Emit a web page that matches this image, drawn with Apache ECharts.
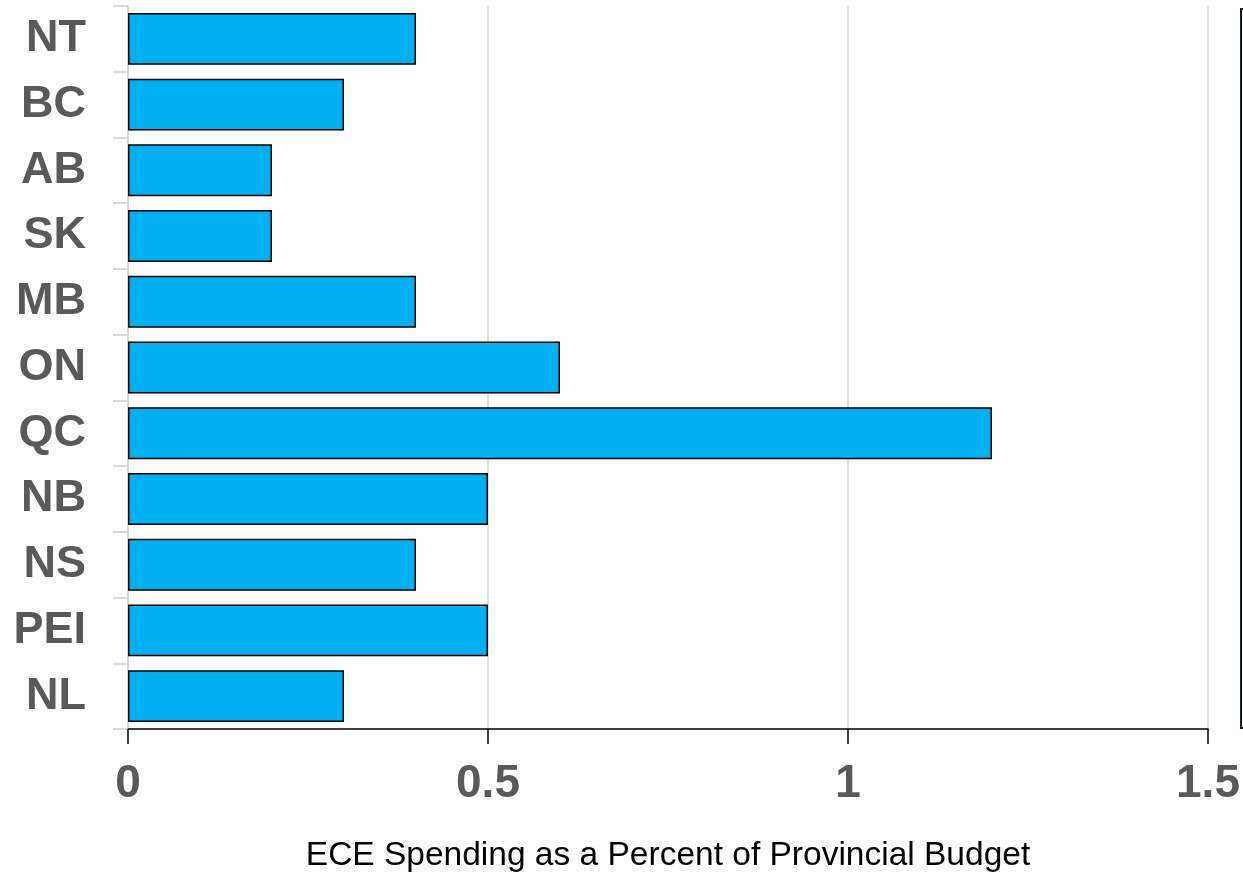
<!DOCTYPE html>
<html>
<head>
<meta charset="utf-8">
<script src="https://cdn.jsdelivr.net/npm/echarts@6/dist/echarts.min.js"></script>
<style>
  html, body { margin: 0; padding: 0; background: #ffffff; }
  #chart { width: 1243px; height: 878px; }
</style>
</head>
<body>
<div id="chart"></div>
<script>
// Provinces / territories, top to bottom
const provinces = ['NT', 'BC', 'AB', 'SK', 'MB', 'ON', 'QC', 'NB', 'NS', 'PEI', 'NL'];
// ECE spending as a percent of provincial budget
const spending = [0.4, 0.3, 0.2, 0.2, 0.4, 0.6, 1.2, 0.5, 0.4, 0.5, 0.3];
// Value axis ticks
const xTicks = [0, 0.5, 1, 1.5];

const chart = echarts.init(document.getElementById('chart'), null, { renderer: 'canvas' });

chart.setOption({
  backgroundColor: '#ffffff',
  animation: false,
  grid: { left: 128, right: 35, top: 6, bottom: 147, containLabel: false },
  xAxis: {
    type: 'value',
    min: xTicks[0],
    max: xTicks[xTicks.length - 1],
    interval: xTicks[1] - xTicks[0],
    name: 'ECE Spending as a Percent of Provincial Budget',
    nameLocation: 'middle',
    nameGap: 110,
    nameTextStyle: { fontFamily: 'Liberation Sans, Arial, sans-serif', fontSize: 33.5, color: '#000000' },
    axisLine: { show: true, lineStyle: { color: '#000000', width: 1.5 } },
    axisTick: { show: true, length: 15, lineStyle: { color: '#000000', width: 1.5 } },
    axisLabel: {
      margin: 32,
      fontFamily: 'Liberation Sans, Arial, sans-serif',
      fontWeight: 'bold',
      fontSize: 46,
      color: '#595959',
      formatter: v => String(v)
    },
    splitLine: { show: true, lineStyle: { color: '#d9d9d9', width: 1.5 } }
  },
  yAxis: {
    type: 'category',
    data: provinces,
    inverse: true,
    axisLine: { show: true, lineStyle: { color: '#d0d0d0', width: 1.5 } },
    axisTick: { show: true, length: 15, lineStyle: { color: '#d0d0d0', width: 1.5 } },
    axisLabel: {
      margin: 42,
      fontFamily: 'Liberation Sans, Arial, sans-serif',
      fontWeight: 'bold',
      fontSize: 45,
      color: '#595959'
    },
    splitLine: { show: false }
  },
  series: [{
    type: 'bar',
    data: spending,
    barCategoryGap: '21%',
    itemStyle: { color: '#00b0f0', borderColor: '#000000', borderWidth: 1.5 },
    silent: true
  }],
  graphic: [{
    type: 'rect',
    shape: { x: 1241, y: 9, width: 60, height: 719 },
    style: { fill: 'none', stroke: '#0d1b2a', lineWidth: 2 },
    silent: true
  }]
});
</script>
</body>
</html>
